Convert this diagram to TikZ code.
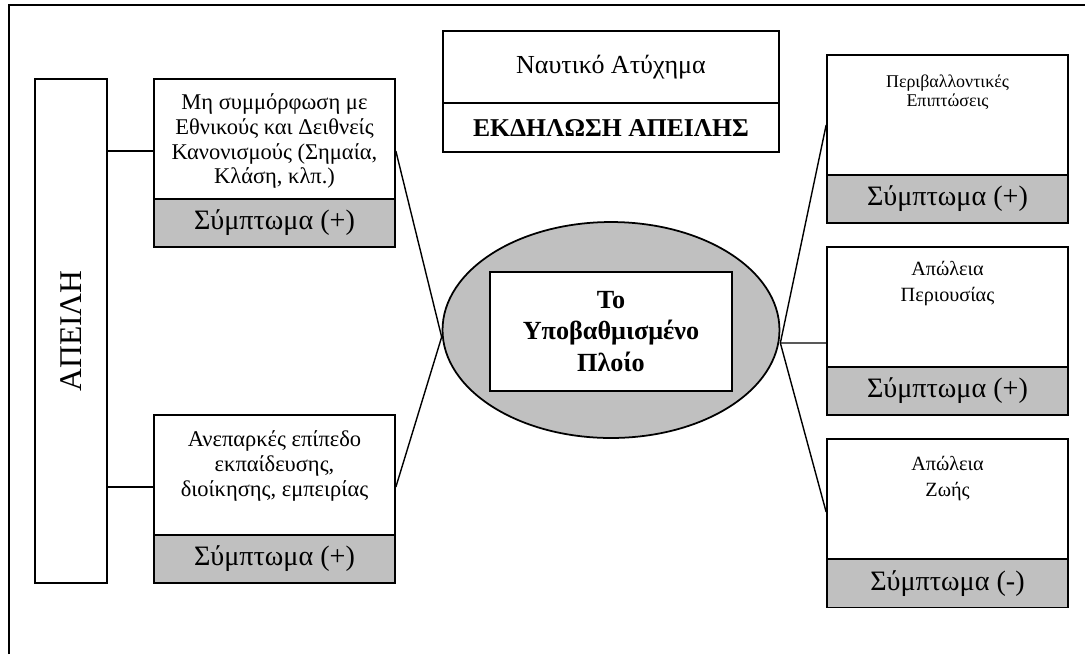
\documentclass[tikz,border=0pt]{standalone}
\usepackage{fontspec}
\setmainfont{Liberation Serif}
\usetikzlibrary{shapes.geometric}

\definecolor{symgrey}{RGB}{192,192,192}
\tikzset{
  box/.style={draw, line width=1pt, fill=white, minimum width=4.82cm, minimum height=2.4cm, inner sep=0pt},
  sym/.style={draw, line width=1pt, fill=symgrey, minimum width=4.82cm, minimum height=.96cm, inner sep=0pt, font=\fontsize{16}{18}\selectfont},
  ltxt/.style={align=center, inner sep=0pt, font=\fontsize{12.8}{14.2}\selectfont},
  rtxt/.style={align=center, inner sep=0pt, font=\fontsize{11.5}{15.3}\selectfont},
}

\begin{document}
\begin{tikzpicture}[x=0.02cm, y=-0.02cm]
		\useasboundingbox (0,0) rectangle (1085,654);
		\draw [line width=1.1pt] (9,654) -- (9,5) -- (1085,5);

		% threat column
		\draw (71,331) node [draw, line width=1pt, minimum width=1.44cm, minimum height=10.08cm] (threat) {};
		\draw (71,331) node [rotate=90, font=\fontsize{18}{22}\selectfont] (threatlbl) {ΑΠΕΙΛΗ};

		% left boxes
		\draw (274.5,139) node [box] (nc) {};
		\draw (274.5,223) node [sym] (ncs) {Σύμπτωμα (+)};
		\draw (274.5,141) node [ltxt] (nct) {Μη συμμόρφωση με\\Εθνικούς και Δειθνείς\\Κανονισμούς (Σημαία,\\Κλάση, κλπ.)};
		\draw (274.5,475) node [box] (tr) {};
		\draw (274.5,559) node [sym] (trs) {Σύμπτωμα (+)};
		\draw (274.5,466) node [ltxt] (trt) {Ανεπαρκές επίπεδο\\εκπαίδευσης,\\διοίκησης, εμπειρίας};

		% top box
		\draw (611,67) node [draw, line width=1pt, minimum width=6.72cm, minimum height=1.44cm, font=\fontsize{14.8}{17}\selectfont] (accident) {Ναυτικό Ατύχημα};
		\draw (611,127.5) node [draw, line width=1pt, minimum width=6.72cm, minimum height=.98cm, font=\bfseries\fontsize{14.6}{17}\selectfont] (event) {ΕΚΔΗΛΩΣΗ ΑΠΕΙΛΗΣ};

		% ship
		\draw (611,330) node [ellipse, draw, line width=1pt, fill=symgrey, minimum width=6.74cm, minimum height=4.32cm, inner sep=0pt] (ship) {};
		\draw (611,331.5) node [draw, line width=1pt, fill=white, minimum width=4.84cm, minimum height=2.38cm, align=center, font=\bfseries\fontsize{14.9}{17.9}\selectfont] (shipbox) {Το\\Υποβαθμισμένο\\Πλοίο};

		% right boxes
		\draw (947.5,115) node [box] (env) {};
		\draw (947.5,199) node [sym] (envs) {Σύμπτωμα (+)};
		\draw (947.5,92) node [rtxt, font=\fontsize{10.2}{10.8}\selectfont] (envt) {Περιβαλλοντικές\\Επιπτώσεις};
		\draw (947.5,307) node [box] (prop) {};
		\draw (947.5,391) node [sym] (props) {Σύμπτωμα (+)};
		\draw (947.5,283.5) node [rtxt] (propt) {Απώλεια\\Περιουσίας};
		\draw (947.5,499) node [box] (life) {};
		\draw (947.5,583.5) node [sym] (lifes) {Σύμπτωμα (-)};
		\draw (947.5,478.5) node [rtxt] (lifet) {Απώλεια\\Ζωής};

		\path ([yshift=-.24cm]nc.west) coordinate (ncw)
			([yshift=-.24cm]nc.east) coordinate (nce)
			([yshift=-.24cm]tr.west) coordinate (trw)
			([yshift=-.24cm]tr.east) coordinate (tre)
			([yshift=-.14cm]ship.west) coordinate (shipw)
			([yshift=-.26cm]ship.east) coordinate (shipe)
			([yshift=-.2cm]env.west) coordinate (envw)
			([yshift=-.72cm]prop.west) coordinate (propw)
			([yshift=-.26cm]life.west) coordinate (lifew);

		\draw [line width=.8pt]
			(ncw) edge (ncw -| threat.east)
			(trw) edge (trw -| threat.east)
			(nce) edge (shipw)
			(tre) edge (shipw)
			(shipe) edge (envw)
			(shipe) edge (propw)
			(shipe) edge (lifew)
		;
	\end{tikzpicture}
\end{document}
